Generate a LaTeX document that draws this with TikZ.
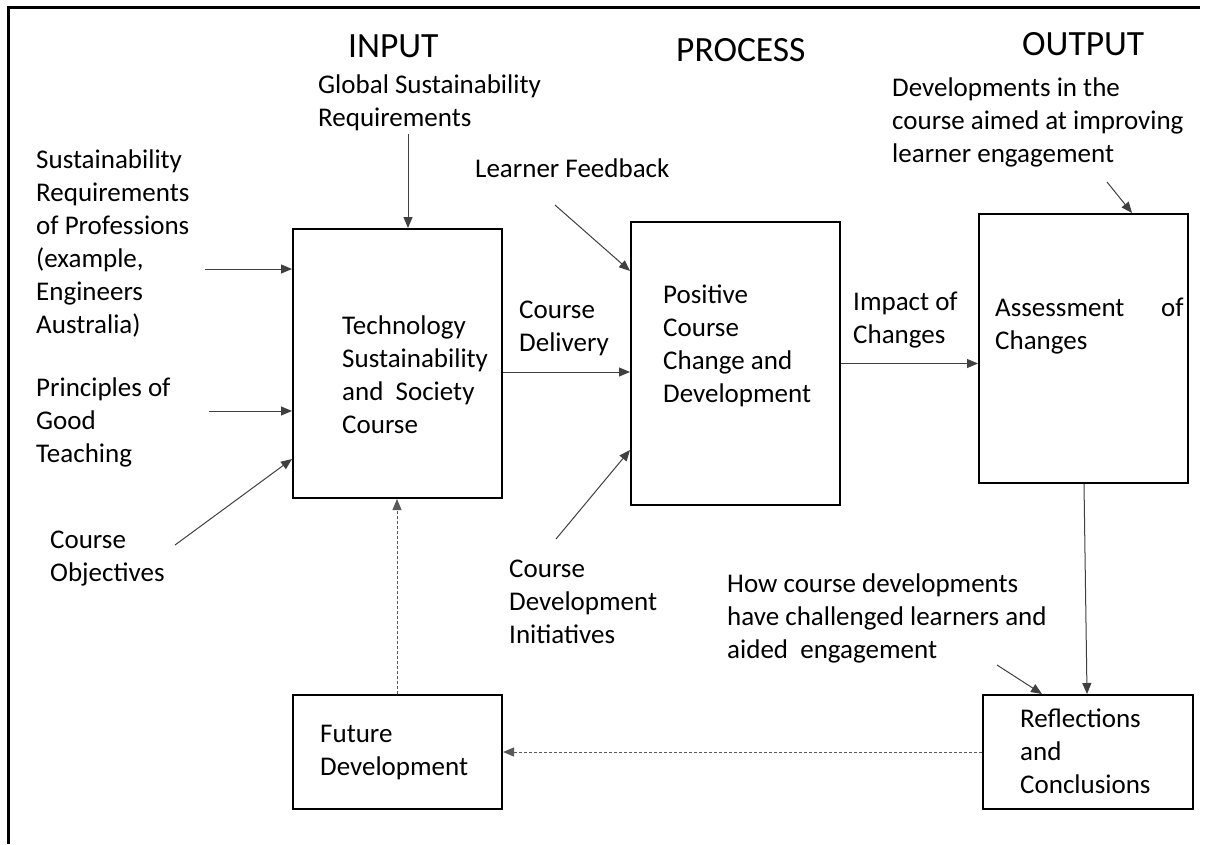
\documentclass[tikz,border=0pt]{standalone}
\usepackage{fontspec}
\setmainfont{Carlito}
\usetikzlibrary{arrows.meta,calc}

\tikzset{
  box/.style={draw=black, line width=2pt, inner sep=0pt, rectangle},
  lbl/.style={anchor=north west, inner sep=0pt, align=left,
              font=\fontsize{27}{33}\selectfont, text=black},
  head/.style={anchor=base west, inner sep=0pt,
               font=\fontsize{35.5}{42}\selectfont, text=black},
  arr/.style={draw=black!75, line width=1pt, -{Triangle[length=11pt,width=9pt]}},
  darr/.style={draw=black!65, line width=1pt, dash pattern=on 3pt off 2pt,
               -{Triangle[length=11pt,width=9pt]}},
}
% place a label by the baseline of its first line
\newcommand{\lblat}[4]{\node[lbl] (#1) at (#2,#3-23.1) {\strut#4};}

\begin{document}
\begin{tikzpicture}[x=1pt,y=-1pt]
  \useasboundingbox (0,0) rectangle (1206,844);
  \fill[white] (0,0) rectangle (1206,844);

  % page frame
  \draw[line width=3pt] (8,844) -- (8,7) -- (1200,7);

  % headings
  \node[head] (hin)  at (348,57) {INPUT};
  \node[head] (hpr)  at (676,61) {PROCESS};
  \node[head] (hout) at (1022,55) {OUTPUT};

  % main boxes
  \node[box, minimum width=209pt, minimum height=269pt] (tech)   at (397.5,363.5) {};
  \node[box, minimum width=209pt, minimum height=283pt] (pos)    at (735.5,363.5) {};
  \node[box, minimum width=209pt, minimum height=269pt] (assess) at (1083.5,348.5) {};
  \node[box, minimum width=209pt, minimum height=114pt] (future) at (397.5,752) {};
  \node[box, minimum width=210pt, minimum height=114pt] (refl)   at (1088,752) {};

  % texts inside the boxes
  \lblat{ttech}{342}{334}{Technology\\Sustainability\\and\ \ Society\\Course}
  \lblat{tpos}{663}{303}{Positive\\Course\\Change and\\Development}
  \lblat{tassess}{995}{316}{Assessment\ \ \ \ \ \ of\\Changes}
  \lblat{tfuture}{320}{742}{Future\\Development}
  \lblat{trefl}{1020}{727}{Reflections\\and\\Conclusions}

  % outside labels
  \lblat{lglobal}{318}{93}{Global Sustainability\\Requirements}
  \lblat{lprof}{36}{168}{Sustainability\\Requirements\\of Professions\\(example,\\Engineers\\Australia)}
  \lblat{lprin}{36}{396}{Principles of\\Good\\Teaching}
  \lblat{lobj}{50}{548}{Course\\Objectives}
  \lblat{lfeed}{475}{177}{Learner Feedback}
  \lblat{ldeliv}{519}{318}{Course\\Delivery}
  \lblat{linit}{509}{577}{Course\\Development\\Initiatives}
  \lblat{limpact}{853}{310}{Impact of\\Changes}
  \lblat{ldev}{892}{96}{Developments in the\\course aimed at improving\\learner engagement}
  \lblat{lhow}{727}{592}{How course developments\\have challenged learners and\\aided\ \ engagement}

  % free ends of the input arrows
  \coordinate (eprof) at (205,269);
  \coordinate (eprin) at (209,411);
  \coordinate (eobj)  at (175,545);
  \coordinate (eglob) at (408,134);
  \coordinate (efeed) at (555,205);
  \coordinate (einit) at (556,539);
  \coordinate (edev)  at (1107,182);
  \coordinate (ehow)  at (997,665);

  % input arrows
  \draw[arr] (eprof) -- (eprof -| tech.west);
  \draw[arr] (eprin) -- (eprin -| tech.west);
  \draw[arr] (eobj) -- ($(tech.south west)+(0,-40)$);
  \draw[arr] (eglob) -- (eglob |- tech.north);
  \draw[arr] (efeed) -- ($(pos.north west)+(0,50)$);
  \draw[arr] (einit) -- ($(pos.south west)+(0,-56)$);
  \draw[arr] (edev) -- ($(assess.north west)+(154,0)$);
  \draw[arr] (ehow) -- ($(refl.north west)+(60,0)$);

  % flow between boxes
  \draw[arr] ([yshift=-8.5pt]tech.east) -- ([yshift=-8.5pt]tech.east -| pos.west);
  \draw[arr] (pos.east) -- (pos.east -| assess.west);
  \draw[arr] ($(assess.south west)+(106,0)$) -- ($(refl.north west)+(105,0)$);

  % feedback loop
  \draw[darr] (refl.west) -- (refl.west -| future.east);
  \draw[darr] ($(future.north west)+(105,0)$) -- ($(tech.south west)+(105,0)$);
\end{tikzpicture}
\end{document}
